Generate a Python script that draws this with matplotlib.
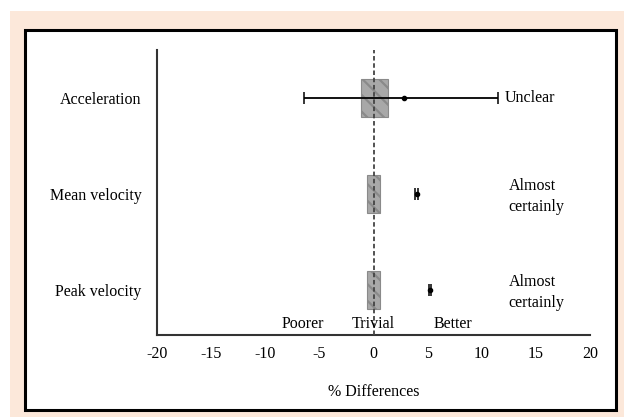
import matplotlib
matplotlib.use("Agg")
import matplotlib.pyplot as plt
from matplotlib.patches import Rectangle

# data
labels = ["Acceleration", "Mean velocity", "Peak velocity"]
ypos = [3, 2, 1]
means = [2.8, 4.0, 5.2]
lower = [-6.4, 3.85, 5.1]
upper = [11.5, 4.15, 5.3]
trivial_lo = [-1.2, -0.6, -0.6]
trivial_hi = [1.3, 0.6, 0.6]
outcomes = ["Unclear", "Almost\ncertainly", "Almost\ncertainly"]
xticks = [-20, -15, -10, -5, 0, 5, 10, 15, 20]

plt.rcParams['font.family'] = ['Liberation Serif', 'DejaVu Serif']
plt.rcParams['hatch.color'] = '#6e6e6e'
plt.rcParams['hatch.linewidth'] = 1.6

fs = 11.5

fig = plt.figure(figsize=(6.24, 4.17), dpi=100)
fig.patches.append(Rectangle((10 / 624, 0), 614 / 624, 406 / 417, transform=fig.transFigure,
                             facecolor='#fce8da', edgecolor='none', zorder=-2))
fig.patches.append(Rectangle((25 / 624, 1 - 410 / 417), 591 / 624, 380 / 417, transform=fig.transFigure,
                             facecolor='white', edgecolor='black', linewidth=2.2, zorder=-1))

ax = fig.add_axes([157 / 624, 1 - 335 / 417, 433 / 624, 285 / 417])
ax.patch.set_alpha(0)

# trivial boxes
for y, lo, hi in zip(ypos, trivial_lo, trivial_hi):
    ax.add_patch(Rectangle((lo, y - 0.2), hi - lo, 0.4, facecolor='#a8a8a8',
                           edgecolor='#8a8a8a', hatch='\\\\', linewidth=0.8, zorder=2))

ax.axvline(0, color='#444444', linestyle=(0, (2.5, 1.5)), linewidth=1.3, zorder=3)

# error bars
xerr = [[m - l for m, l in zip(means, lower)], [u - m for m, u in zip(means, upper)]]
ax.errorbar(means, ypos, xerr=xerr, fmt='o', color='black', markersize=3,
            elinewidth=1.3, capsize=4, capthick=1.1, zorder=4)

# outcome labels
ax.text(12.1, ypos[0], outcomes[0], fontsize=fs, va='center', ha='left')
for y, t in zip(ypos[1:], outcomes[1:]):
    ax.text(12.5, y - 0.03, t, fontsize=fs, va='center', ha='left', linespacing=1.4)

ax.text(-6.5, 0.64, "Poorer", fontsize=fs, ha='center', va='center')
ax.text(0, 0.64, "Trivial", fontsize=fs, ha='center', va='center')
ax.text(7.3, 0.64, "Better", fontsize=fs, ha='center', va='center')

ax.set_xlim(-20, 20)
ax.set_ylim(0.53, 3.5)
ax.set_xticks(xticks)
ax.set_xticklabels([str(v) for v in xticks])
ax.set_yticks(ypos)
ax.set_yticklabels(labels)
ax.tick_params(axis='both', length=0, labelsize=fs)
ax.tick_params(axis='x', pad=8)
ax.tick_params(axis='y', pad=11)
ax.set_xlabel("% Differences", fontsize=fs, labelpad=16)

ax.spines['top'].set_visible(False)
ax.spines['right'].set_visible(False)
ax.spines['left'].set_linewidth(1.5)
ax.spines['bottom'].set_linewidth(1.5)
ax.spines['left'].set_color('#333333')
ax.spines['bottom'].set_color('#333333')

fig.savefig("out.png", dpi=100)
